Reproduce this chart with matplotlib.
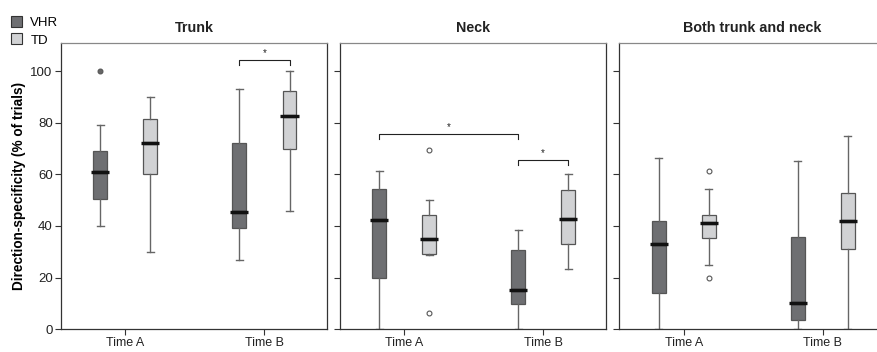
import matplotlib.pyplot as plt
from matplotlib.patches import Patch

plt.rcParams['font.family'] = ['Liberation Sans', 'DejaVu Sans']

panels = ['Trunk', 'Neck', 'Both trunk and neck']
times = ['Time A', 'Time B']
groups = ['VHR', 'TD']

# [whislo, q1, median, q3, whishi] per panel -> time -> group
trunk_vhr = [[40, 50.5, 61, 69, 79], [27, 39.3, 45.3, 72, 93]]
trunk_td = [[30, 60, 72, 81.4, 90], [46, 69.8, 82.8, 92.2, 100]]
neck_vhr = [[0, 19.8, 42.4, 54.5, 61.5], [0, 9.8, 15.2, 30.7, 38.4]]
neck_td = [[28.6, 29.3, 34.9, 44.3, 50], [23.5, 33.2, 42.8, 53.9, 60.1]]
both_vhr = [[0, 14, 33, 42, 66.5], [0, 3.6, 10, 35.6, 65.3]]
both_td = [[25, 35.5, 41.2, 44.3, 54.5], [0, 31, 41.8, 52.7, 75]]

# outliers
trunk_vhr_out = [[100], []]
trunk_td_out = [[], []]
neck_vhr_out = [[], []]
neck_td_out = [[69.3, 6.2], []]
both_vhr_out = [[], []]
both_td_out = [[61.5, 20], []]

data = [
    (trunk_vhr, trunk_td, trunk_vhr_out, trunk_td_out),
    (neck_vhr, neck_td, neck_vhr_out, neck_td_out),
    (both_vhr, both_td, both_vhr_out, both_td_out),
]

# significance brackets: (panel, x1, x2, y)
brackets = [(0, 0.82, 1.18, 104.4), (1, -0.18, 0.82, 75.5), (1, 0.82, 1.18, 65.6)]

vhr_color = '#6e6f72'
td_color = '#d1d2d4'
edge = '#555555'

fig = plt.figure(figsize=(8.78, 3.52), dpi=100)
lefts = [0.0695, 0.387, 0.7054]
axes = [fig.add_axes([l, 0.065, 0.303, 0.813]) for l in lefts]

for i, ax in enumerate(axes):
    vhr, td, vout, tout = data[i]
    for g, (vals, outs, col, off) in enumerate([(vhr, vout, vhr_color, -0.18),
                                                 (td, tout, td_color, 0.18)]):
        stats = []
        for t in range(2):
            lo, q1, med, q3, hi = vals[t]
            stats.append(dict(whislo=lo, q1=q1, med=med, q3=q3, whishi=hi,
                              fliers=outs[t]))
        pos = [t + off for t in range(2)]
        if g == 0:
            fp = dict(marker='o', markersize=3.5, markerfacecolor='#666666',
                      markeredgecolor='#555555', markeredgewidth=0.8)
        else:
            fp = dict(marker='o', markersize=3.5, markerfacecolor='white',
                      markeredgecolor='#555555', markeredgewidth=0.8)
        ax.bxp(stats, positions=pos, widths=0.1, patch_artist=True,
               boxprops=dict(facecolor=col, edgecolor=edge, linewidth=0.9),
               whiskerprops=dict(color='#666666', linewidth=1.0),
               capprops=dict(color='#666666', linewidth=1.0),
               capwidths=0.05,
               medianprops=dict(color='#111111', linewidth=2.4),
               flierprops=fp, manage_ticks=False)
        for t in range(2):
            ax.hlines(vals[t][2], t + off - 0.065, t + off + 0.065,
                      color='#111111', linewidth=2.4, zorder=5)

    ax.set_xlim(-0.463, 1.45)
    ax.set_ylim(0, 111)
    ax.set_xticks([0, 1])
    ax.set_xticklabels(times, fontsize=9)
    ax.set_yticks([0, 20, 40, 60, 80, 100])
    if i == 0:
        ax.set_yticklabels(['0', '20', '40', '60', '80', '100'], fontsize=9.5)
        ax.set_ylabel('Direction-specificity (% of trials)', fontsize=9.8,
                      fontweight='bold', labelpad=3)
    else:
        ax.set_yticklabels([])
    ax.tick_params(direction='out', length=4, width=0.8, color='#333333',
                   labelcolor='#222222', pad=2)
    for s in ax.spines.values():
        s.set_linewidth(0.9)
        s.set_color('#333333')
    ax.spines['top'].set_color('#888888')
    ax.set_title(panels[i], fontsize=10.3, fontweight='bold', pad=8, color='#222222')

for p, x1, x2, y in brackets:
    ax = axes[p]
    ax.plot([x1, x1, x2, x2], [y - 1.8, y, y, y - 1.8], color='#222222', linewidth=0.8)
    ax.text((x1 + x2) / 2, y + 0.8, '*', ha='center', va='bottom', fontsize=7,
            color='#222222')

handles = [Patch(facecolor=vhr_color, edgecolor='#333333', linewidth=0.8),
           Patch(facecolor=td_color, edgecolor='#333333', linewidth=0.8)]
fig.legend(handles, groups, loc='upper left', bbox_to_anchor=(0.0, 0.985),
           frameon=False, fontsize=9.5, handlelength=0.9, handleheight=0.9,
           handletextpad=0.6, labelspacing=0.35, borderpad=0.3)

fig.savefig('out.png', dpi=100)
